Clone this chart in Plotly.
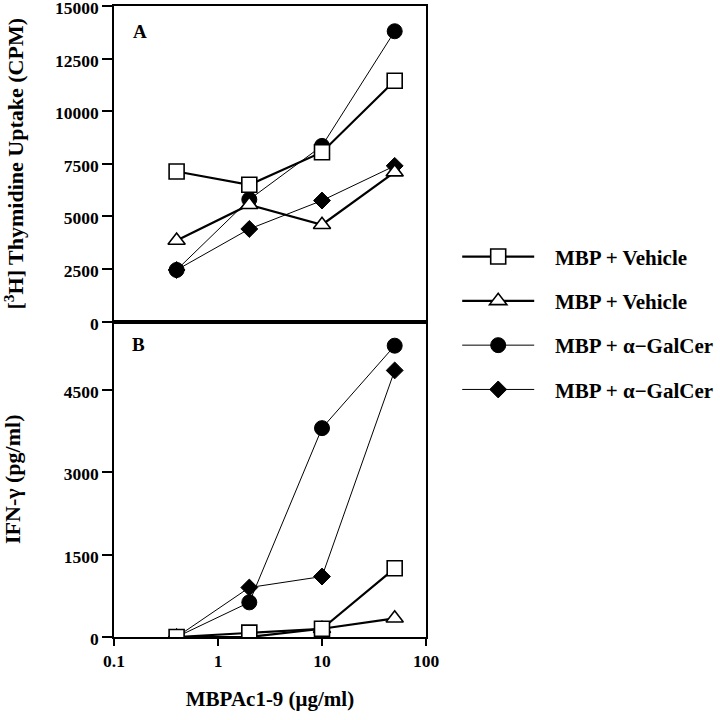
import plotly.graph_objects as go
from plotly.subplots import make_subplots

conc = [0.4, 2, 10, 50]
series_names = ["MBP + Vehicle", "MBP + Vehicle", "MBP + α−GalCer", "MBP + α−GalCer"]

# Panel A: [3H] thymidine uptake (CPM)
thy_square = [7130, 6500, 8050, 11450]
thy_triangle = [3850, 5550, 4600, 7100]
thy_circle = [2450, 5800, 8350, 13800]
thy_diamond = [2450, 4400, 5750, 7400]

# Panel B: IFN-gamma (pg/ml)
ifn_square = [0, 80, 150, 1250]
ifn_triangle = [0, 0, 150, 340]
ifn_circle = [0, 630, 3800, 5300]
ifn_diamond = [0, 900, 1100, 4850]

yA_ticks = [0, 2500, 5000, 7500, 10000, 12500, 15000]
yB_ticks = [0, 1500, 3000, 4500]
x_ticks = [0.1, 1, 10, 100]
x_ticklabels = ["0.1", "1", "10", "100"]

FONT = "Liberation Serif"

def bold(v):
    return "<b>%s</b>" % v

styles = {
    "circle": dict(symbol="circle", size=15, lw=1, mlw=1, fill="black"),
    "diamond": dict(symbol="diamond", size=13, lw=1, mlw=1, fill="black"),
    "triangle": dict(symbol="triangle-up", size=15, lw=2.2, mlw=1.6, fill="white"),
    "square": dict(symbol="square", size=15, lw=2.2, mlw=1.6, fill="white"),
}

fig = make_subplots(rows=2, cols=1, shared_xaxes=True, vertical_spacing=0)

order = [
    ("circle", thy_circle, ifn_circle, series_names[2], 3),
    ("diamond", thy_diamond, ifn_diamond, series_names[3], 4),
    ("triangle", thy_triangle, ifn_triangle, series_names[1], 2),
    ("square", thy_square, ifn_square, series_names[0], 1),
]

for key, ya, yb, name, rank in order:
    s = styles[key]
    common = dict(
        mode="lines+markers",
        line=dict(color="black", width=s["lw"]),
        marker=dict(symbol=s["symbol"], size=s["size"], color=s["fill"],
                    line=dict(color="black", width=s["mlw"])),
    )
    fig.add_trace(go.Scatter(x=conc, y=ya, name="\u00a0\u00a0\u00a0" + bold(name),
                             legendgroup=key, legendrank=rank, showlegend=True,
                             **common), row=1, col=1)
    fig.add_trace(go.Scatter(x=conc, y=yb, name=name, legendgroup=key,
                             showlegend=False, **common), row=2, col=1)

axis_common = dict(showline=True, linecolor="black", linewidth=1.5, mirror=True,
                   showgrid=False, zeroline=False, automargin=False,
                   ticklabeloverflow="allow",
                   tickfont=dict(family=FONT, size=17.5, color="black"))

fig.update_xaxes(type="log", range=[-1, 2], tickvals=x_ticks,
                 ticktext=[bold(t) for t in x_ticklabels], **axis_common)
fig.update_xaxes(ticks="", showticklabels=False, row=1, col=1)
fig.update_xaxes(ticks="outside", ticklen=7, tickwidth=1.5, tickcolor="black",
                 title=dict(text="<b>MBPAc1-9 (μg/ml)</b>",
                            font=dict(family=FONT, size=21, color="black"), standoff=22),
                 row=2, col=1)

fig.update_yaxes(ticks="outside", ticklen=10, tickwidth=1.5, tickcolor="black",
                 ticklabelshift=2, **axis_common)
fig.update_yaxes(range=[0, 15000.5], tickvals=yA_ticks,
                 ticktext=[bold(t) for t in yA_ticks],
                 title=dict(text="<b>[<sup>3</sup>H] Thymidine Uptake (CPM)</b>",
                            font=dict(family=FONT, size=22, color="black"), standoff=26),
                 row=1, col=1)
fig.update_yaxes(range=[0, 5740], tickvals=yB_ticks,
                 ticktext=[bold(t) for t in yB_ticks],
                 title=dict(text="<b>IFN-γ (pg/ml)</b>",
                            font=dict(family=FONT, size=22, color="black"), standoff=40),
                 row=2, col=1)

fig.add_annotation(text="<b>A</b>", xref="paper", yref="paper", x=0.083, y=0.960,
                   xanchor="center", yanchor="middle",
                   showarrow=False, font=dict(family=FONT, size=19, color="black"))
fig.add_annotation(text="<b>B</b>", xref="paper", yref="paper", x=0.08, y=0.464,
                   xanchor="center", yanchor="middle",
                   showarrow=False, font=dict(family=FONT, size=19, color="black"))

fig.update_layout(
    width=720, height=720,
    margin=dict(l=114, r=294, t=6, b=83, autoexpand=False),
    paper_bgcolor="white", plot_bgcolor="white",
    showlegend=True,
    legend=dict(x=1.1, y=0.497, xanchor="left", yanchor="middle",
                font=dict(family=FONT, size=21, color="black"),
                itemwidth=72, tracegroupgap=14, bgcolor="rgba(0,0,0,0)"),
)

fig.write_html("out.html", config={"displayModeBar": False},
               post_script="document.body.style.margin='0';")
